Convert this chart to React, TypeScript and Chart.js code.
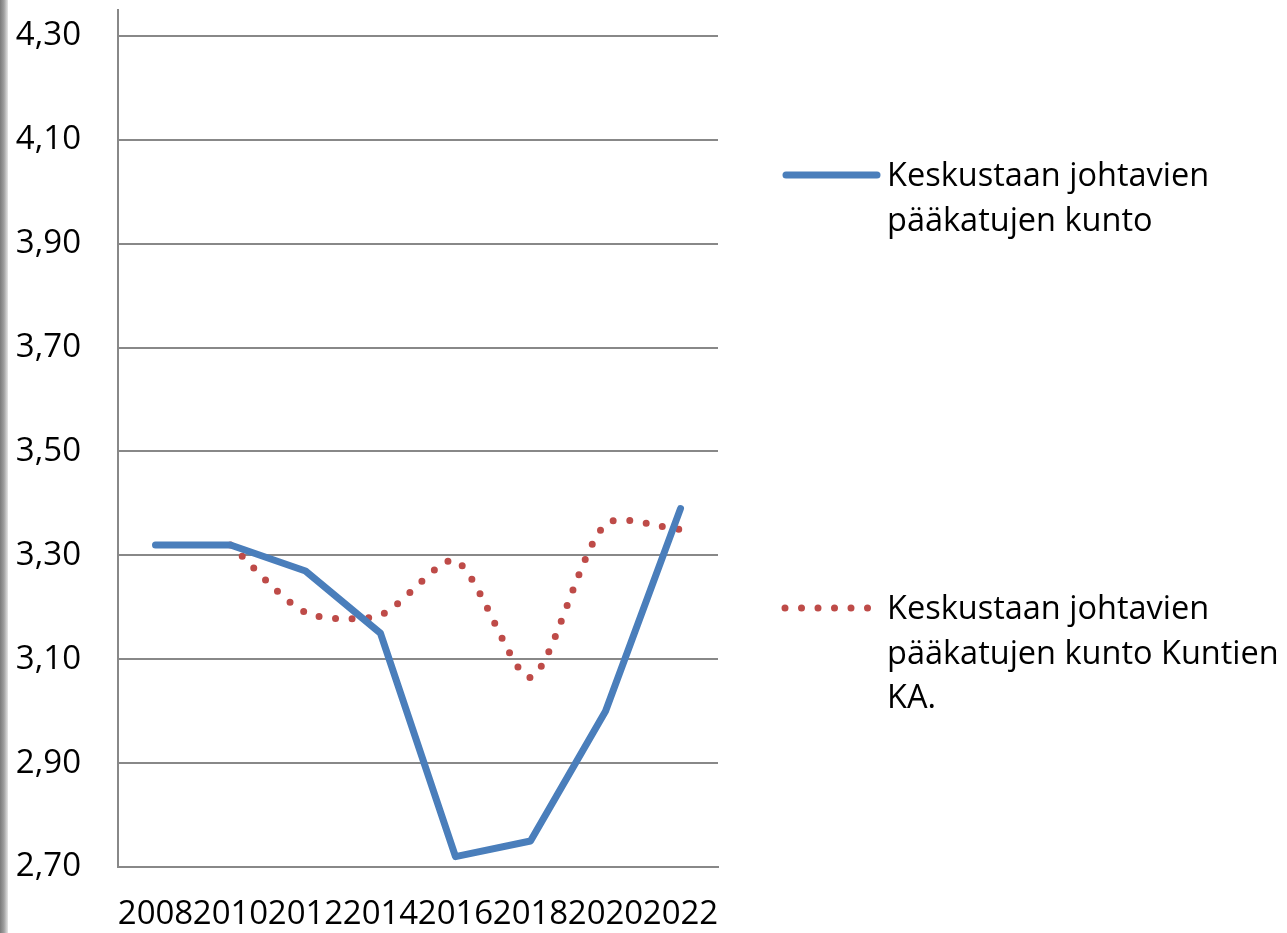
import React, { useEffect, useRef } from "react";
import { Chart, registerables } from "chart.js";

Chart.register(...registerables);

// ---- data ----
const years = ["2008", "2010", "2012", "2014", "2016", "2018", "2020", "2022"];
const kunto = [3.32, 3.32, 3.27, 3.15, 2.72, 2.75, 3.0, 3.39];
const kuntienKA = [null, 3.32, 3.19, 3.185, 3.29, 3.065, 3.36, 3.35];
const seriesLabels = [
  "Keskustaan johtavien pääkatujen kunto",
  "Keskustaan johtavien pääkatujen kunto Kuntien KA.",
];
const legendLines = [
  ["Keskustaan johtavien", "pääkatujen kunto"],
  ["Keskustaan johtavien", "pääkatujen kunto Kuntien", "KA."],
];
const yTicks = [2.7, 2.9, 3.1, 3.3, 3.5, 3.7, 3.9, 4.1, 4.3];
const yMin = 2.7;
const yMax = 4.35;

const FONT = "'Open Sans', 'Liberation Sans', sans-serif";
const BLUE = "#4A7EBB";
const RED = "#BE4B48";
const GRID = "#888888";

const legendPlugin = {
  id: "sideLegend",
  afterDraw(chart: any) {
    const ctx = chart.ctx;
    const items = [
      { y: 175, lineY: 175 },
      { y: 608, lineY: 608 },
    ];
    ctx.save();
    chart.data.datasets.forEach((ds: any, i: number) => {
      const it = items[i];
      ctx.beginPath();
      ctx.strokeStyle = ds.borderColor;
      ctx.lineWidth = ds.borderWidth;
      ctx.lineCap = "round";
      ctx.setLineDash(ds.borderDash || []);
      if (ds.borderDash && ds.borderDash.length) {
        ctx.moveTo(785, it.lineY);
        ctx.lineTo(868, it.lineY);
      } else {
        ctx.moveTo(786, it.lineY);
        ctx.lineTo(877, it.lineY);
      }
      ctx.stroke();
      ctx.setLineDash([]);
      ctx.fillStyle = "#000";
      ctx.font = `32.5px ${FONT}`;
      ctx.textBaseline = "alphabetic";
      ctx.textAlign = "left";
      legendLines[i].forEach((line, k) => {
        ctx.fillText(line, 887, it.y + 11 + k * 44.5);
      });
    });
    ctx.restore();
  },
};

export default function App() {
  const ref = useRef<HTMLCanvasElement | null>(null);
  useEffect(() => {
    document.body.style.margin = "0";
    const chart = new Chart(ref.current as HTMLCanvasElement, {
      type: "line",
      data: {
        labels: years,
        datasets: [
          {
            label: seriesLabels[0],
            data: kunto,
            borderColor: BLUE,
            backgroundColor: BLUE,
            borderWidth: 7,
            borderCapStyle: "round",
            borderJoinStyle: "round",
            pointRadius: 0,
            tension: 0,
          },
          {
            label: seriesLabels[1],
            data: kuntienKA as any,
            borderColor: RED,
            backgroundColor: RED,
            borderWidth: 7,
            borderDash: [0, 16.5],
            borderCapStyle: "round",
            pointRadius: 0,
            tension: 0.25,
          },
        ],
      },
      options: {
        animation: false,
        responsive: true,
        maintainAspectRatio: false,
        layout: { autoPadding: false, padding: { top: 10, right: 569, left: 0, bottom: 0 } },
        plugins: {
          legend: { display: false },
          tooltip: { enabled: false },
        },
        scales: {
          x: {
            offset: true,
            grid: { display: false, drawTicks: false },
            border: { display: true, color: GRID, width: 2 },
            ticks: {
              autoSkip: false,
              maxRotation: 0,
              minRotation: 0,
              padding: 28,
              color: "#000",
              font: { family: FONT, size: 33 },
            },
            afterFit: (s: any) => {
              s.height = 66;
              s.paddingLeft = 0;
              s.paddingRight = 0;
            },
          },
          y: {
            min: yMin,
            max: yMax,
            afterBuildTicks: (s: any) => {
              s.ticks = yTicks.map((v) => ({ value: v }));
            },
            afterFit: (s: any) => {
              s.width = 118;
              s.paddingTop = 0;
              s.paddingBottom = 0;
            },
            grid: { color: GRID, lineWidth: 2, drawTicks: false },
            border: { display: true, color: GRID, width: 2 },
            ticks: {
              padding: 37,
              color: "#000",
              font: { family: FONT, size: 33 },
              callback: (v: any) => Number(v).toFixed(2).replace(".", ","),
            },
          },
        },
      },
      plugins: [legendPlugin],
    });
    return () => chart.destroy();
  }, []);

  return (
    <div style={{ position: "absolute", left: 0, top: 0, width: 1287, height: 933, background: "#fff" }}>
      <div
        style={{
          position: "absolute",
          left: 0,
          top: 0,
          width: 8,
          height: 933,
          background: "linear-gradient(to right, #7a7a7a, #a0a0a0 50%, #e6e6e6)",
        }}
      />
      <canvas ref={ref} />
    </div>
  );
}
